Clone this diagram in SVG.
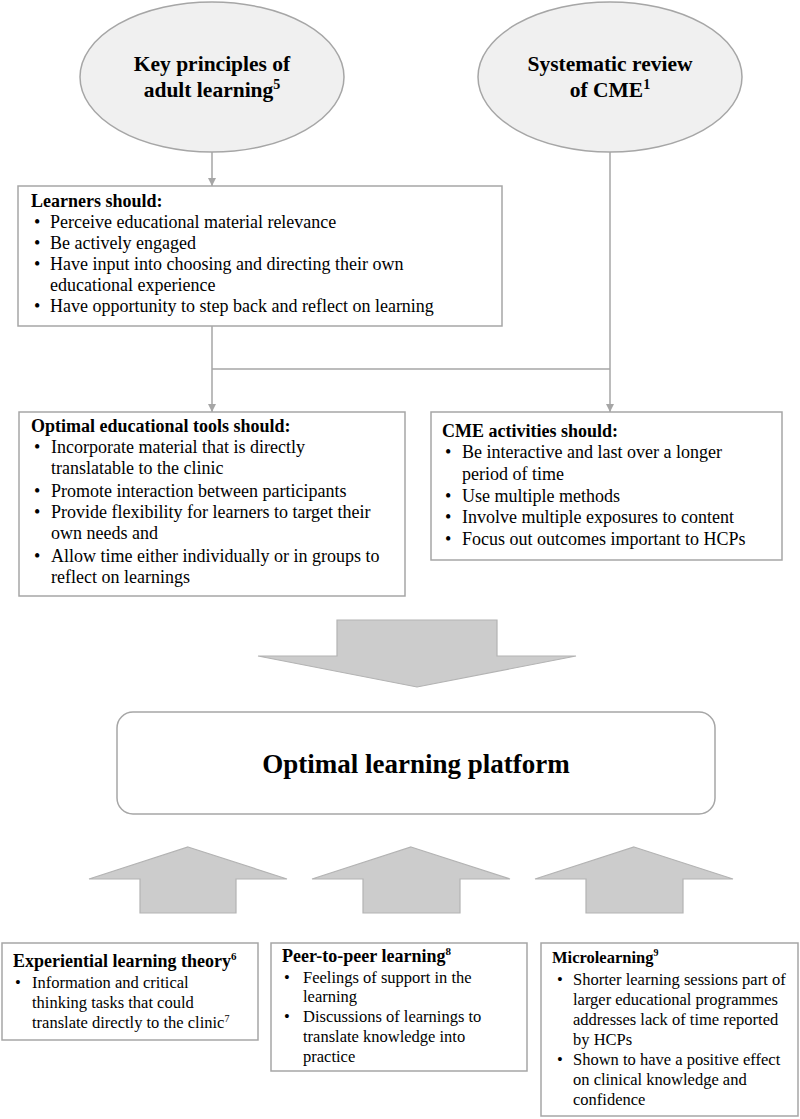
<svg xmlns="http://www.w3.org/2000/svg" width="800" height="1119" viewBox="0 0 800 1119">
<defs>
<marker id="ah" viewBox="0 0 10 10" refX="10" refY="5" markerWidth="8" markerHeight="8" markerUnits="userSpaceOnUse" orient="auto">
<path d="M0,0 L10,5 L0,10 z" fill="#a6a6a6"/>
</marker>
<style>
.t{font-family:"Liberation Serif","Times New Roman",serif;fill:#000}
.b{font-weight:bold}
.ell{fill:#f0f0f0;stroke:#a6a6a6;stroke-width:1.5}
.box{fill:#fff;stroke:#a6a6a6;stroke-width:1.5}
.big{fill:#cccccc;stroke:#b3b3b3;stroke-width:1.2}
.con{fill:none;stroke:#a6a6a6;stroke-width:1.5}
.s{font-size:18px}
.m{font-size:16.5px}
</style>
</defs>
<rect width="800" height="1119" fill="#fff"/>

<g id="connectors">
<line class="con" x1="212" y1="151" x2="212" y2="186" marker-end="url(#ah)"/>
<line class="con" x1="212" y1="326" x2="212" y2="412" marker-end="url(#ah)"/>
<line class="con" x1="212" y1="369" x2="610" y2="369"/>
<line class="con" x1="610" y1="151" x2="610" y2="412" marker-end="url(#ah)"/>
</g>

<g id="key-principles">
<ellipse class="ell" cx="212" cy="77" rx="132" ry="75"/>
<text class="t b" font-size="21.5" x="212" y="71" text-anchor="middle">Key principles of</text>
<text class="t b" font-size="21.5" x="212" y="97" text-anchor="middle">adult learning<tspan font-size="14" dy="-8">5</tspan></text>
</g>

<g id="systematic-review">
<ellipse class="ell" cx="610" cy="77" rx="132" ry="75"/>
<text class="t b" font-size="21.5" x="610" y="71" text-anchor="middle">Systematic review</text>
<text class="t b" font-size="21.5" x="610" y="97" text-anchor="middle">of CME<tspan font-size="14" dy="-8">1</tspan></text>
</g>

<g id="learners">
<rect class="box" x="18" y="186" width="484" height="140"/>
<text class="t s b" x="31" y="207">Learners should:</text>
<g class="t s">
<text x="34" y="228">•</text><text x="50" y="228">Perceive educational material relevance</text>
<text x="34" y="249">•</text><text x="50" y="249">Be actively engaged</text>
<text x="34" y="270">•</text><text x="50" y="270">Have input into choosing and directing their own</text>
<text x="50" y="291">educational experience</text>
<text x="34" y="312">•</text><text x="50" y="312">Have opportunity to step back and reflect on learning</text>
</g>
</g>

<g id="optimal-tools">
<rect class="box" x="19" y="412" width="386" height="184"/>
<text class="t s b" x="31" y="432">Optimal educational tools should:</text>
<g class="t s">
<text x="34" y="453">•</text><text x="51" y="453">Incorporate material that is directly</text>
<text x="51" y="474">translatable to the clinic</text>
<text x="34" y="497">•</text><text x="51" y="497">Promote interaction between participants</text>
<text x="34" y="518">•</text><text x="51" y="518">Provide flexibility  for learners to target their</text>
<text x="51" y="539">own needs and</text>
<text x="34" y="562">•</text><text x="51" y="562">Allow time either individually  or in groups to</text>
<text x="51" y="583">reflect on learnings</text>
</g>
</g>

<g id="cme-activities">
<rect class="box" x="431" y="412" width="351" height="148"/>
<text class="t s b" x="442" y="437">CME activities should:</text>
<g class="t s">
<text x="445" y="458">•</text><text x="462" y="458">Be interactive and last over a longer</text>
<text x="462" y="480">period of time</text>
<text x="445" y="502">•</text><text x="462" y="502">Use multiple methods</text>
<text x="445" y="523">•</text><text x="462" y="523">Involve multiple exposures to content</text>
<text x="445" y="545">•</text><text x="462" y="545">Focus out outcomes important to HCPs</text>
</g>
</g>

<g id="down-arrow">
<polygon class="big" points="337,620 497,620 497,656 576,656 417,687 258,656 337,656"/>
</g>

<g id="platform">
<rect class="box" x="117" y="712" width="598" height="102" rx="16" ry="16"/>
<text class="t b" font-size="27" x="416" y="773" text-anchor="middle">Optimal learning platform</text>
</g>

<g id="up-arrows">
<polygon class="big" points="188,847 287,879 236,879 236,913 140,913 140,879 89,879"/>
<polygon class="big" points="411,847 510,879 460,879 460,913 363,913 363,879 312,879"/>
<polygon class="big" points="634,847 733,879 683,879 683,913 586,913 586,879 535,879"/>
</g>

<g id="experiential">
<rect class="box" x="2" y="943" width="256" height="97"/>
<text class="t b" font-size="18" x="13" y="967">Experiential learning theory<tspan font-size="11" dy="-7">6</tspan></text>
<g class="t m">
<text x="15" y="988">•</text><text x="32" y="988">Information and critical</text>
<text x="32" y="1008">thinking tasks that could</text>
<text x="32" y="1028">translate directly to the clinic<tspan font-size="10" dy="-6">7</tspan></text>
</g>
</g>

<g id="peer">
<rect class="box" x="271" y="943" width="256" height="128"/>
<text class="t b" font-size="18" x="282" y="962">Peer-to-peer learning<tspan font-size="11" dy="-7">8</tspan></text>
<g class="t m">
<text x="284" y="983">•</text><text x="303" y="983">Feelings of support in the</text>
<text x="303" y="1002">learning</text>
<text x="284" y="1022">•</text><text x="303" y="1022">Discussions of learnings to</text>
<text x="303" y="1042">translate knowledge into</text>
<text x="303" y="1062">practice</text>
</g>
</g>

<g id="microlearning">
<rect class="box" x="541" y="943" width="257" height="173"/>
<text class="t b" font-size="16.5" x="552" y="963">Microlearning<tspan font-size="10" dy="-7">9</tspan></text>
<g class="t m">
<text x="557" y="985">•</text><text x="573" y="985">Shorter learning sessions part of</text>
<text x="573" y="1005">larger educational programmes</text>
<text x="573" y="1025">addresses lack of time reported</text>
<text x="573" y="1045">by HCPs</text>
<text x="557" y="1065">•</text><text x="573" y="1065">Shown to have a positive effect</text>
<text x="573" y="1085">on clinical knowledge and</text>
<text x="573" y="1105">confidence</text>
</g>
</g>
</svg>
